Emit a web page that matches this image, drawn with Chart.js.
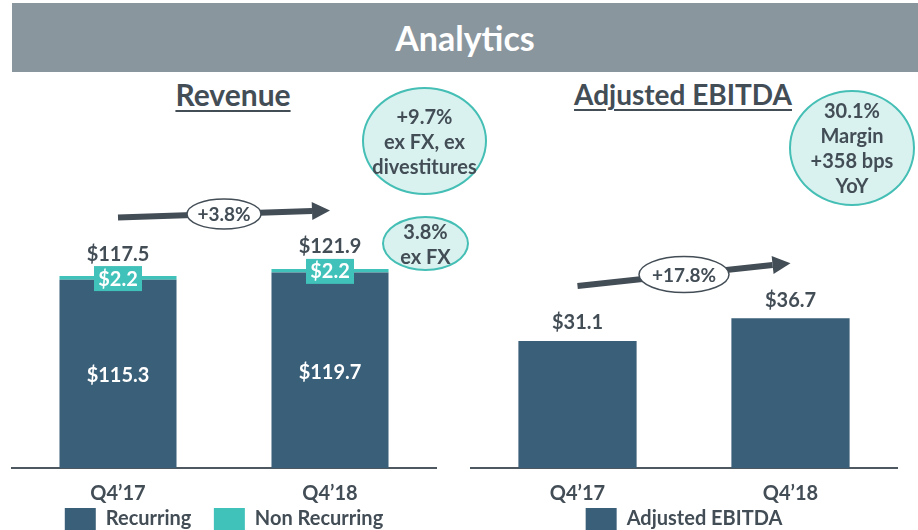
<!DOCTYPE html>
<html>
<head>
<meta charset="utf-8">
<script src="https://cdn.jsdelivr.net/npm/chart.js@4.4.0/dist/chart.umd.min.js"></script>
<style>
body { margin: 0; width: 918px; height: 530px; overflow: hidden; background: #fff; font-family: Lato, sans-serif; position: relative; }
.header { position: absolute; left: 12px; top: 3px; width: 906px; height: 69px; background: #8a969e; color: #fff; font-weight: bold; font-size: 34px; text-align: center; line-height: 69px; }
.title { position: absolute; transform: translateX(-50%); color: #434d56; font-weight: bold; font-size: 29px; text-decoration: underline; text-decoration-thickness: 2px; text-underline-offset: 4px; white-space: nowrap; }
.bubble { position: absolute; background: #d9f2ef; border: 2px solid #45bfb5; border-radius: 50%; box-sizing: border-box; display: flex; align-items: center; justify-content: center; text-align: center; color: #434d56; font-weight: bold; font-size: 20px; line-height: 25px; z-index: 2; }
.wrap { position: absolute; top: 180px; }
</style>
</head>
<body>
<div class="header">Analytics</div>
<div class="title" style="left:233px; top:76px; font-size:30px;">Revenue</div>
<div class="title" style="left:683px; top:77px; font-size:28px;">Adjusted EBITDA</div>
<div class="bubble" style="left:362px; top:87px; width:125px; height:108px;">+9.7%<br>ex FX, ex<br>divestitures</div>
<div class="bubble" style="left:382px; top:216px; width:87px; height:55px;">3.8%<br>ex FX</div>
<div class="bubble" style="left:789px; top:90px; width:126px; height:116px;">30.1%<br>Margin<br>+358 bps<br>YoY</div>

<div class="wrap" style="left:0px;"><canvas id="revenue" width="460" height="360"></canvas></div>
<div class="wrap" style="left:460px;"><canvas id="ebitda" width="458" height="360"></canvas></div>

<script>
// data
const categories = ['Q4’17', 'Q4’18'];
const recurring = [115.3, 119.7];
const nonRecurring = [2.2, 2.2];
const revenueTotal = [117.5, 121.9];
const ebitda = [31.1, 36.7];
const revenueGrowth = '+3.8%';
const ebitdaGrowth = '+17.8%';

const DARK = '#3a5f78';
const TEAL = '#40c1b9';
const TEXT = '#434d56';

Chart.defaults.font.family = 'Lato, sans-serif';
Chart.defaults.font.weight = 'bold';
Chart.defaults.color = TEXT;

// labels on the revenue bars
const revenueLabels = {
    id: 'revenueLabels',
    afterDatasetsDraw(chart) {
        const ctx = chart.ctx;
        const rec = chart.getDatasetMeta(0).data;
        const non = chart.getDatasetMeta(1).data;
        ctx.save();
        ctx.textAlign = 'center';
        ctx.textBaseline = 'middle';
        ctx.font = 'bold 20px Lato, sans-serif';
        rec.forEach((bar, i) => {
            // recurring value, inside
            ctx.fillStyle = '#fff';
            ctx.fillText('$' + recurring[i].toFixed(1), bar.x, (bar.y + bar.base) / 2 + 2);

            // non recurring box
            const top = non[i].y;
            ctx.fillStyle = TEAL;
            ctx.fillRect(bar.x - 24, top - 10, 48, 25);
            ctx.fillStyle = '#fff';
            ctx.fillText('$' + nonRecurring[i].toFixed(1), bar.x, top + 3);

            // total
            ctx.fillStyle = TEXT;
            ctx.fillText('$' + revenueTotal[i].toFixed(1), bar.x, top - 22);
        });
        ctx.restore();
    }
};

const ebitdaLabels = {
    id: 'ebitdaLabels',
    afterDatasetsDraw(chart) {
        const ctx = chart.ctx;
        ctx.save();
        ctx.textAlign = 'center';
        ctx.textBaseline = 'middle';
        ctx.font = 'bold 20px Lato, sans-serif';
        ctx.fillStyle = TEXT;
        chart.getDatasetMeta(0).data.forEach((bar, i) => {
            ctx.fillText('$' + ebitda[i].toFixed(1), bar.x, bar.y - 18);
        });
        ctx.restore();
    }
};

// growth arrow between the two bar tops
const growthArrow = {
    id: 'growthArrow',
    afterDatasetsDraw(chart, args, opts) {
        const ctx = chart.ctx;
        const bars = chart.getDatasetMeta(chart.data.datasets.length - 1).data;
        const x0 = bars[0].x, y0 = bars[0].y - opts.offset;
        const x1 = bars[1].x, y1 = bars[1].y - opts.offset;
        const ang = Math.atan2(y1 - y0, x1 - x0);
        const head = 18;
        ctx.save();
        ctx.strokeStyle = TEXT;
        ctx.fillStyle = TEXT;
        ctx.lineWidth = 6;
        ctx.beginPath();
        ctx.moveTo(x0, y0);
        ctx.lineTo(x1 - head * Math.cos(ang), y1 - head * Math.sin(ang));
        ctx.stroke();
        ctx.translate(x1, y1);
        ctx.rotate(ang);
        ctx.beginPath();
        ctx.moveTo(0, 0);
        ctx.lineTo(-head, -9);
        ctx.lineTo(-head, 9);
        ctx.closePath();
        ctx.fill();
        ctx.restore();

        // label ellipse
        const mx = (x0 + x1) / 2, my = (y0 + y1) / 2;
        ctx.save();
        ctx.beginPath();
        ctx.ellipse(mx, my, opts.rx, opts.ry, 0, 0, Math.PI * 2);
        ctx.fillStyle = '#fff';
        ctx.fill();
        ctx.lineWidth = 1.5;
        ctx.strokeStyle = TEXT;
        ctx.stroke();
        ctx.fillStyle = TEXT;
        ctx.font = 'bold 19px Lato, sans-serif';
        ctx.textAlign = 'center';
        ctx.textBaseline = 'middle';
        ctx.fillText(opts.text, mx, my + 1);
        ctx.restore();
    }
};

function xAxis() {
    return {
        stacked: true,
        grid: { display: false, drawTicks: false },
        border: { display: true, color: '#4d5860', width: 2 },
        ticks: { color: TEXT, padding: 14, font: { size: 20, weight: 'bold' } },
        afterFit(axis) { axis.height = 37; }
    };
}

// legend: small vertical padding, gap between items made with spaces
function legendOpts() {
    return {
        position: 'bottom',
        labels: {
            boxWidth: 31,
            boxHeight: 22,
            padding: 3,
            color: TEXT,
            font: { size: 20, weight: 'bold' },
            generateLabels(chart) {
                const items = Chart.defaults.plugins.legend.labels.generateLabels(chart);
                return items.map((it, i) => i < items.length - 1 ? Object.assign(it, { text: it.text + '    ' }) : it);
            }
        }
    };
}

new Chart(document.getElementById('revenue'), {
    type: 'bar',
    data: {
        labels: categories,
        datasets: [
            { label: 'Recurring', data: recurring, backgroundColor: DARK, barPercentage: 0.552, categoryPercentage: 1 },
            { label: 'Non Recurring', data: nonRecurring, backgroundColor: TEAL, barPercentage: 0.552, categoryPercentage: 1 }
        ]
    },
    options: {
        responsive: false,
        animation: false,
        layout: { padding: { left: 12, right: 24, top: 43, bottom: 0 } },
        scales: {
            x: xAxis(),
            y: { stacked: true, display: false, min: 0, max: 150 }
        },
        plugins: {
            legend: legendOpts(),
            tooltip: { enabled: false },
            growthArrow: { text: revenueGrowth, offset: 58.5, rx: 37, ry: 15 }
        }
    },
    plugins: [revenueLabels, growthArrow]
});

new Chart(document.getElementById('ebitda'), {
    type: 'bar',
    data: {
        labels: categories,
        datasets: [
            { label: 'Adjusted EBITDA', data: ebitda, backgroundColor: DARK, barPercentage: 0.555, categoryPercentage: 1 }
        ]
    },
    options: {
        responsive: false,
        animation: false,
        layout: { padding: { left: 11, right: 21, top: 43, bottom: 0 } },
        scales: {
            x: xAxis(),
            y: { display: false, min: 0, max: 60 }
        },
        plugins: {
            legend: legendOpts(),
            tooltip: { enabled: false },
            growthArrow: { text: ebitdaGrowth, offset: 55, rx: 45, ry: 18 }
        }
    },
    plugins: [ebitdaLabels, growthArrow]
});
</script>
</body>
</html>
